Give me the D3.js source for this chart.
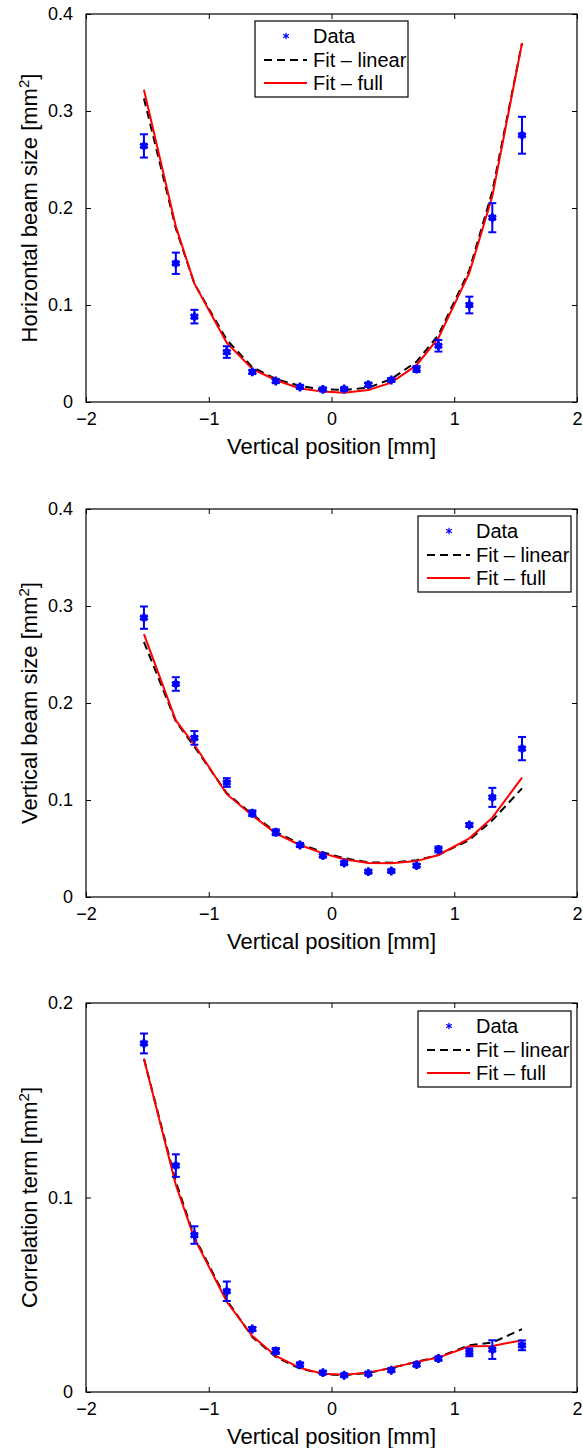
<!DOCTYPE html>
<html><head><meta charset="utf-8">
<script src="https://cdn.jsdelivr.net/npm/d3@7"></script>
<style>
html,body{margin:0;padding:0;background:#fff;}
text{font-family:"Liberation Sans",Arial,Helvetica,sans-serif;}
</style></head>
<body>
<svg id="chart" width="583" height="1448"></svg>
<script>
// ---- data ----
const xPos = [-1.528, -1.268, -1.117, -0.853, -0.645, -0.454, -0.257, -0.07, 0.103, 0.30, 0.487, 0.693, 0.871, 1.123, 1.31, 1.552];

const hData = [0.264, 0.143, 0.088, 0.0515, 0.031, 0.0216, 0.0155, 0.013, 0.0134, 0.0179, 0.0227, 0.034, 0.058, 0.100, 0.190, 0.275];
const hErr  = [0.012, 0.011, 0.007, 0.006, 0.002, 0.002, 0.0015, 0.0012, 0.0012, 0.002, 0.002, 0.003, 0.006, 0.0086, 0.015, 0.019];
const hFitLinear = [0.313, 0.179, 0.122, 0.064, 0.036, 0.0237, 0.0165, 0.013, 0.0124, 0.0148, 0.0237, 0.0416, 0.069, 0.136, 0.217, 0.370];
const hFitFull   = [0.322, 0.181, 0.122, 0.061, 0.034, 0.0227, 0.014, 0.0107, 0.0096, 0.0124, 0.020, 0.038, 0.066, 0.133, 0.212, 0.370];

const vData = [0.288, 0.2196, 0.164, 0.118, 0.0863, 0.0667, 0.0536, 0.0426, 0.035, 0.0261, 0.0268, 0.0323, 0.049, 0.0742, 0.1027, 0.153];
const vErr  = [0.0115, 0.007, 0.007, 0.0045, 0.003, 0.003, 0.002, 0.0015, 0.0015, 0.0012, 0.0012, 0.0015, 0.003, 0.002, 0.0098, 0.012];
const vFitLinear = [0.263, 0.181, 0.155, 0.107, 0.085, 0.067, 0.055, 0.046, 0.040, 0.0357, 0.0354, 0.038, 0.0433, 0.0588, 0.079, 0.112];
const vFitFull   = [0.271, 0.182, 0.157, 0.106, 0.084, 0.0656, 0.0536, 0.045, 0.039, 0.035, 0.0347, 0.037, 0.0433, 0.0605, 0.0818, 0.123];

const cData = [0.1792, 0.1164, 0.0807, 0.0518, 0.0324, 0.0211, 0.0141, 0.00996, 0.0086, 0.0094, 0.0112, 0.0141, 0.0172, 0.0204, 0.0218, 0.024];
const cErr  = [0.0051, 0.0058, 0.0045, 0.005, 0.001, 0.0015, 0.001, 0.0008, 0.0008, 0.0008, 0.0008, 0.0008, 0.001, 0.002, 0.0048, 0.0025];
const cFitLinear = [0.1713, 0.108, 0.0798, 0.0472, 0.0283, 0.018, 0.012, 0.0093, 0.0086, 0.0098, 0.0124, 0.0155, 0.018, 0.024, 0.0254, 0.0323];
const cFitFull   = [0.1713, 0.1064, 0.079, 0.0464, 0.0288, 0.0185, 0.0124, 0.0094, 0.0089, 0.00996, 0.0124, 0.0155, 0.0177, 0.0235, 0.0237, 0.0266];

const xTicks = [-2, -1, 0, 1, 2];
const yTicksBeam = [0, 0.1, 0.2, 0.3, 0.4];
const yTicksCorr = [0, 0.1, 0.2];
const legendLabels = ["Data", "Fit \u2013 linear", "Fit \u2013 full"];
const xLabel = "Vertical position [mm]";

const panels = [
  {label:"Horizontal beam size [mm", data:hData, err:hErr, lin:hFitLinear, full:hFitFull, yMax:0.4, yTicks:yTicksBeam, top:14, bottom:402, legend:{x:255, y:21}},
  {label:"Vertical beam size [mm", data:vData, err:vErr, lin:vFitLinear, full:vFitFull, yMax:0.4, yTicks:yTicksBeam, top:509, bottom:897, legend:{x:418, y:516}},
  {label:"Correlation term [mm", data:cData, err:cErr, lin:cFitLinear, full:cFitFull, yMax:0.2, yTicks:yTicksCorr, top:1003, bottom:1392, legend:{x:418, y:1011}}
];

const svg = d3.select("#chart");
const L = 86, R = 577;
const blue = "#0000ff";
const tickFont = 18, labelFont = 22, legendFont = 20;
const fmtX = d => d < 0 ? "\u2212" + Math.abs(d) : String(d);
const fmtY = d => d === 0 ? "0" : d3.format(".1f")(d);

panels.forEach(p => {
  const x = d3.scaleLinear().domain([-2, 2]).range([L, R]);
  const y = d3.scaleLinear().domain([0, p.yMax]).range([p.bottom, p.top]);
  const g = svg.append("g");

  const tickLen = 5;
  const ax = g.append("g").attr("transform", `translate(0,${p.bottom})`)
    .call(d3.axisBottom(x).tickValues(xTicks).tickFormat(fmtX).tickSizeInner(-tickLen).tickSizeOuter(0).tickPadding(10));
  const axTop = g.append("g").attr("transform", `translate(0,${p.top})`)
    .call(d3.axisTop(x).tickValues(xTicks).tickFormat("").tickSizeInner(-tickLen).tickSizeOuter(0));
  const ay = g.append("g").attr("transform", `translate(${L},0)`)
    .call(d3.axisLeft(y).tickValues(p.yTicks).tickFormat(fmtY).tickSizeInner(-tickLen).tickSizeOuter(0).tickPadding(13));
  const ayR = g.append("g").attr("transform", `translate(${R},0)`)
    .call(d3.axisRight(y).tickValues(p.yTicks).tickFormat("").tickSizeInner(-tickLen).tickSizeOuter(0));
  [ax, axTop, ay, ayR].forEach(a => {
    a.select(".domain").remove();
    a.selectAll("line").attr("stroke", "#000").attr("stroke-width", 1);
    a.selectAll("text").attr("font-size", tickFont).attr("fill", "#000")
      .attr("font-family", '"Liberation Sans",Arial,sans-serif');
  });
  ax.selectAll("text").attr("dy", "0.71em");

  g.append("rect").attr("x", L).attr("y", p.top).attr("width", R - L).attr("height", p.bottom - p.top)
    .attr("fill", "none").attr("stroke", "#000").attr("stroke-width", 1.2);

  const line = d3.line().x((d, i) => x(xPos[i])).y(d => y(d));
  g.append("path").datum(p.lin).attr("d", line).attr("fill", "none")
    .attr("stroke", "#000").attr("stroke-width", 2).attr("stroke-dasharray", "8,5");
  g.append("path").datum(p.full).attr("d", line).attr("fill", "none")
    .attr("stroke", "#ff0000").attr("stroke-width", 2);

  const eb = g.append("g").attr("stroke", blue).attr("stroke-width", 2).attr("fill", "none");
  p.data.forEach((v, i) => {
    const cx = x(xPos[i]), y1 = y(v - p.err[i]), y2 = y(v + p.err[i]);
    eb.append("line").attr("x1", cx).attr("x2", cx).attr("y1", y1).attr("y2", y2);
    eb.append("line").attr("x1", cx - 4).attr("x2", cx + 4).attr("y1", y1).attr("y2", y1);
    eb.append("line").attr("x1", cx - 4).attr("x2", cx + 4).attr("y1", y2).attr("y2", y2);
  });
  const star = d3.symbol(d3.symbolAsterisk).size(55);
  g.append("g").selectAll("path").data(p.data).join("path")
    .attr("d", star).attr("transform", (d, i) => `translate(${x(xPos[i])},${y(d)})`)
    .attr("fill", "none").attr("stroke", blue).attr("stroke-width", 2.6);
  g.append("g").selectAll("circle").data(p.data).join("circle")
    .attr("cx", (d, i) => x(xPos[i])).attr("cy", d => y(d)).attr("r", 3.5).attr("fill", blue);

  g.append("text").attr("x", (L + R) / 2).attr("y", p.bottom + 52).attr("text-anchor", "middle")
    .attr("font-size", labelFont).text(xLabel);
  const yl = g.append("text").attr("transform", `translate(37,${(p.top + p.bottom) / 2}) rotate(-90)`)
    .attr("text-anchor", "middle").attr("font-size", labelFont);
  yl.append("tspan").text(p.label);
  yl.append("tspan").attr("font-size", 15).attr("dy", -8).text("2");
  yl.append("tspan").attr("dy", 8).text("]");

  const lg = g.append("g").attr("transform", `translate(${p.legend.x},${p.legend.y})`);
  lg.append("rect").attr("x", 0).attr("y", 0).attr("width", 153).attr("height", 76)
    .attr("fill", "#fff").attr("stroke", "#000").attr("stroke-width", 1.2);
  const rowY = [15, 39, 62];
  lg.append("path").attr("d", d3.symbol(d3.symbolAsterisk).size(30))
    .attr("transform", `translate(31,${rowY[0]})`).attr("fill", "none").attr("stroke", blue).attr("stroke-width", 1.2);
  lg.append("line").attr("x1", 9).attr("x2", 52).attr("y1", rowY[1]).attr("y2", rowY[1])
    .attr("stroke", "#000").attr("stroke-width", 2).attr("stroke-dasharray", "8,5");
  lg.append("line").attr("x1", 9).attr("x2", 52).attr("y1", rowY[2]).attr("y2", rowY[2])
    .attr("stroke", "#ff0000").attr("stroke-width", 2);
  legendLabels.forEach((t, i) => {
    lg.append("text").attr("x", 58).attr("y", rowY[i]).attr("dy", "0.35em")
      .attr("font-size", legendFont).text(t);
  });
});
</script>
</body></html>
